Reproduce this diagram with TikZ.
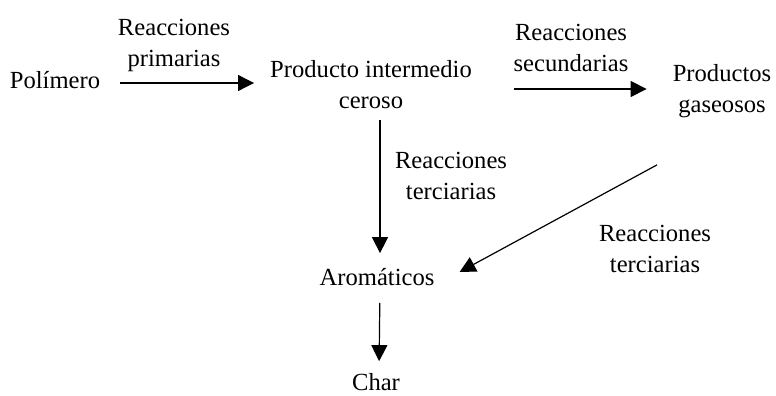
\documentclass[tikz,border=0pt]{standalone}
\usepackage{fontspec}
\setmainfont{Liberation Serif}
\usetikzlibrary{arrows.meta}

\begin{document}
\begin{tikzpicture}[x=1pt,y=1pt,
    flecha/.style={draw=black, line width=1.2pt, -{Triangle[length=16pt,width=16pt]}},
    texto/.style={font=\fontsize{24.6}{31}\selectfont, align=center}]
                \tikzstyle{every node}+=[inner sep=0pt]
                \useasboundingbox (0,0) rectangle (776,-396);
                \node [texto] (polimero) at (55,-80) {Polímero};
                \node [texto] (producto) at (371,-85) {Producto intermedio\\ceroso};
                \node [texto] (productos) at (722,-91) {Productos\\gaseosos};
                \node [texto] (aromaticos) at (377,-277) {Aromáticos};
                \node [texto] (char) at (376,-382) {Char};
                \node [texto] (lblprim) at (174,-45) {Reacciones\\primarias};
                \node [texto] (lblsec) at (571,-48) {Reacciones\\secundarias};
                \node [texto] (lblter) at (451,-176) {Reacciones\\terciarias};
                \node [texto] (lblterb) at (655,-249) {Reacciones\\terciarias};
                \draw [flecha, shorten <=20pt, shorten >=16pt] ([yshift=-3pt]polimero.east) -- ([yshift=-3pt]polimero.east -| producto.west);
                \draw [flecha, shorten <=42pt, shorten >=26pt] ([yshift=-4pt]producto.east) -- ([yshift=-4pt]producto.east -| productos.west);
                \draw [flecha, shorten <=11pt, shorten >=15pt] ([xshift=3pt]aromaticos.north |- producto.south) -- ([xshift=3pt]aromaticos.north);
                \draw [flecha, shorten <=17pt, shorten >=12pt] ([xshift=3pt]aromaticos.south) -- ([xshift=3pt]char.north);
                \draw [flecha] ([xshift=-65pt,yshift=-47pt]productos.south) -- ([xshift=25pt,yshift=5pt]aromaticos.east);
            \end{tikzpicture}
\end{document}
